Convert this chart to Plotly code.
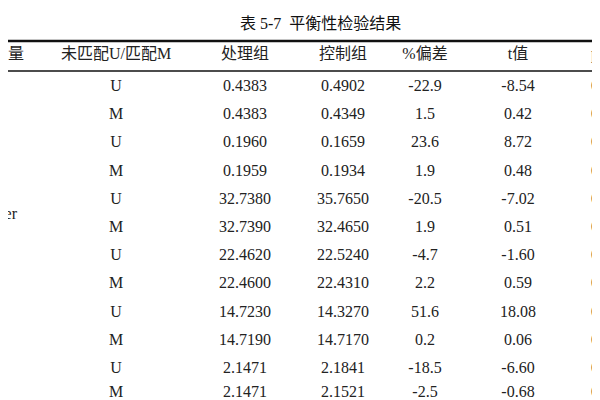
import plotly.graph_objects as go

title = "表 5-7  平衡性检验结果"
headers = ["变量", "未匹配U/匹配M", "处理组", "控制组", "%偏差", "t值"]
p_header = "p>|t|"
sample = ["U", "M"] * 6
treated = ["0.4383", "0.4383", "0.1960", "0.1959", "32.7380", "32.7390",
           "22.4620", "22.4600", "14.7230", "14.7190", "2.1471", "2.1471"]
control = ["0.4902", "0.4349", "0.1659", "0.1934", "35.7650", "32.4650",
           "22.5240", "22.4310", "14.3270", "14.7170", "2.1841", "2.1521"]
bias = ["-22.9", "1.5", "23.6", "1.9", "-20.5", "1.9",
        "-4.7", "2.2", "51.6", "0.2", "-18.5", "-2.5"]
tval = ["-8.54", "0.42", "8.72", "0.48", "-7.02", "0.51",
        "-1.60", "0.59", "18.08", "0.06", "-6.60", "-0.68"]
pval = ["0.000", "0.676", "0.000", "0.632", "0.000", "0.611",
        "0.110", "0.554", "0.000", "0.952", "0.000", "0.497"]

FONT = "Liberation Serif, Noto Sans CJK SC"
FS = 16
col_x = [16, 108, 237, 335, 417, 510]
p_x = 583
row_y = [79 + 28.2 * i for i in range(12)]
row_y[-1] = 385

fig = go.Figure()
for x, col in zip(col_x[1:], [sample, treated, control, bias, tval]):
    fig.add_trace(go.Scatter(x=[x] * len(col), y=row_y, text=col, mode="text",
                             textfont=dict(family=FONT, size=FS, color="#222"),
                             showlegend=False, hoverinfo="skip"))
# p column, cut off by the right edge
fig.add_trace(go.Scatter(x=[p_x] * len(pval) + [p_x], y=row_y + [47],
                         text=pval + [p_header], mode="text", textposition="middle right",
                         textfont=dict(family=FONT, size=FS, color="#222"),
                         showlegend=False, hoverinfo="skip", cliponaxis=True))
# header row
fig.add_trace(go.Scatter(x=col_x, y=[47] * len(headers), text=headers, mode="text",
                         textposition=["middle left"] + ["middle center"] * 5,
                         textfont=dict(family=FONT, size=FS, color="#222"),
                         showlegend=False, hoverinfo="skip"))
# variable name column (mostly cut off at the left edge)
fig.add_trace(go.Scatter(x=[9], y=[207], text=["Gender"], mode="text",
                         textposition="middle left",
                         textfont=dict(family=FONT, size=FS, color="#222"),
                         showlegend=False, hoverinfo="skip"))

fig.add_shape(type="line", xref="paper", yref="paper", x0=0, x1=1,
              y0=1 - 33 / 400, y1=1 - 33 / 400, line=dict(color="#111", width=2.5))
fig.add_shape(type="line", xref="paper", yref="paper", x0=0, x1=1,
              y0=1 - 63 / 400, y1=1 - 63 / 400, line=dict(color="#111", width=1.5))
fig.add_annotation(x=312, y=15, text=title, showarrow=False,
                   font=dict(family=FONT, size=FS, color="#111"))

fig.update_xaxes(range=[0, 600], visible=False)
fig.update_yaxes(range=[400, 0], visible=False)
fig.update_layout(width=600, height=400, margin=dict(l=0, r=0, t=0, b=0),
                  plot_bgcolor="white", paper_bgcolor="white")
fig.write_html("out.html")
